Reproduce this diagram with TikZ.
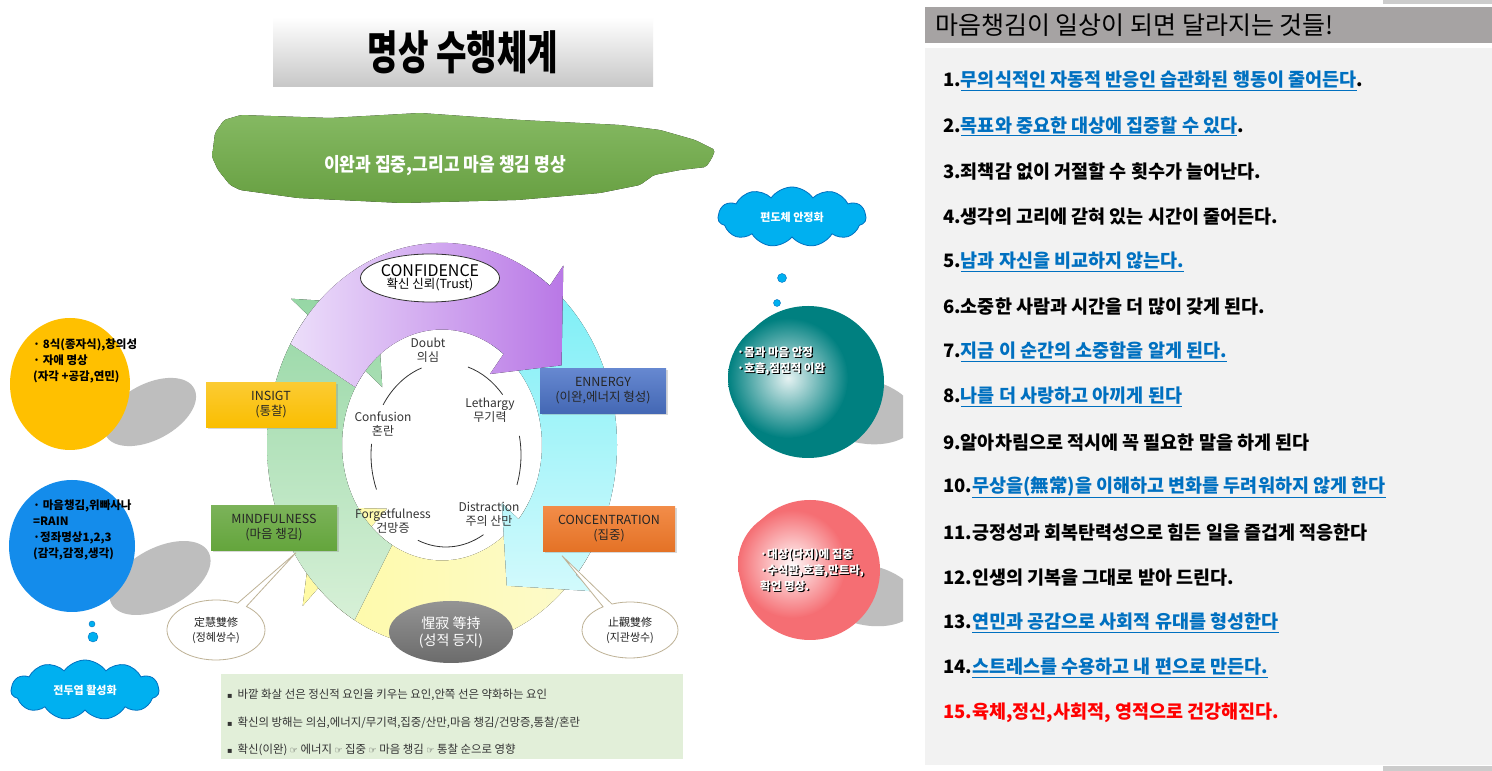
\documentclass[tikz,border=0pt]{standalone}
\usepackage{fontspec}
\setmainfont{Noto Sans CJK KR}
\newfontfamily\symfont{DejaVu Sans}
\usepackage{graphicx}
\usepackage{tikz}
\usetikzlibrary{shapes.geometric,shapes.symbols,shapes.callouts,calc,shadows}
\definecolor{linkblue}{RGB}{0,112,192}
\definecolor{alarm}{RGB}{255,0,0}
\definecolor{panelgray}{RGB}{242,242,242}
\definecolor{headgray}{RGB}{166,163,163}
\definecolor{brush}{RGB}{112,173,71}
\definecolor{skyblue}{RGB}{0,176,240}
\definecolor{skyline}{RGB}{0,112,192}
\definecolor{gold}{RGB}{255,192,0}
\definecolor{deepsky}{RGB}{20,140,235}
\definecolor{tealball}{RGB}{0,128,128}
\definecolor{pinkball}{RGB}{245,110,115}
\definecolor{shadowgray}{RGB}{190,190,190}
\definecolor{lilac}{RGB}{236,222,250}
\definecolor{violet2}{RGB}{185,120,230}
\definecolor{aqua1}{RGB}{120,238,246}
\definecolor{aqua2}{RGB}{210,250,252}
\definecolor{lemon1}{RGB}{255,250,165}
\definecolor{lemon2}{RGB}{252,250,205}
\definecolor{mint1}{RGB}{150,215,165}
\definecolor{mint2}{RGB}{215,240,215}
\definecolor{notegreen}{RGB}{226,239,217}
\definecolor{bubbleline}{RGB}{190,178,150}
\definecolor{insgold}{RGB}{250,190,0}
\definecolor{engblue}{RGB}{75,115,200}
\definecolor{mindgreen}{RGB}{100,165,60}
\definecolor{concorange}{RGB}{240,120,40}
\newcommand{\lnk}[1]{{\color{linkblue}\underline{#1}}}
\newcommand{\hand}{{\symfont\fontsize{9}{9}\selectfont ☞}}
\newcommand{\ringarrow}[3]{%
  \fill[#3] (#1:175) arc[start angle=#1,end angle=#2,radius=175] -- (#2:197) -- ({#2-22}:138)
    -- (#2:78) -- (#2:100) arc[start angle=#2,end angle=#1,radius=100] -- cycle;}

\begin{document}
\begin{tikzpicture}[x=1pt,y=1pt,
  stage/.style={rectangle,minimum width=130pt,minimum height=45pt,align=center,font=\fontsize{12.5}{15}\selectfont,text=black!85,drop shadow={shadow xshift=1.5pt,shadow yshift=-2pt,opacity=.3}},
  lbl/.style={align=center,font=\fontsize{12}{14}\selectfont,text=black!80,inner sep=1pt},
  arcline/.style={draw=black!80,line width=0.8pt},
  bubble/.style={ellipse callout,draw=bubbleline,line width=0.8pt,fill=white,callout pointer arc=12,align=center,font=\fontsize{11}{15}\selectfont,text=black!85},
  orbtxt/.style={align=left,anchor=west,font=\fontsize{11.5}{16}\selectfont\bfseries,inner sep=0pt},
  cloudy/.style={cloud,cloud puffs=11,cloud puff arc=110,cloud ignores aspect,draw=skyline,line width=0.8pt,fill=skyblue,text=white,font=\fontsize{11}{13}\selectfont\bfseries,minimum width=148pt,minimum height=60pt},
  drop/.style={circle,fill=skyblue,draw=skyline,line width=0.4pt,inner sep=0pt},
  item/.style={anchor=west,inner sep=0pt,font=\fontsize{18.5}{20}\selectfont\bfseries},
  note/.style={anchor=west,inner sep=0pt,font=\fontsize{11.4}{13}\selectfont,text=black!80}
]
\useasboundingbox (0,0) rectangle (1492,771);
\fill[white] (0,0) rectangle (1492,771);

% shadows behind the orbs
\begin{scope}
  \clip (0,0) rectangle (903,771);
  \fill[shadowgray,rotate around={28:(150,359)}] (150,359) ellipse[x radius=50,y radius=28];
  \fill[shadowgray,rotate around={28:(160,193)}] (160,193) ellipse[x radius=55,y radius=30];
  \fill[shadowgray,rotate around={-12:(862,360)}] (862,360) ellipse[x radius=55,y radius=32];
  \fill[shadowgray,rotate around={-12:(866,176)}] (866,176) ellipse[x radius=52,y radius=30];
\end{scope}

% left orbs
\node[ellipse,fill=gold,minimum width=120pt,minimum height=132pt] (self) at (70,387) {};
\node[orbtxt] (selftxt) at (33,410) {· 8식(종자식),창의성\\· 자애 명상\\(자각 +공감,연민)};
\node[ellipse,fill=deepsky,minimum width=126pt,minimum height=132pt] (rain) at (72,225) {};
\node[orbtxt] (raintxt) at (33,241) {· 마음챙김,위빠사나\\ =RAIN\\·정좌명상1,2,3\\(감각,감정,생각)};

% title and banner
\node[rectangle,top color=white,bottom color=black!22,minimum width=380pt,minimum height=70pt,font=\fontsize{46}{46}\selectfont\bfseries] (title) at (463,719) {\scalebox{0.72}[1]{명상 수행체계}};
\fill[top color=brush!85!white,bottom color=brush!92!black,rounded corners=2pt] (224,651) -- (241,656) -- (330,653) -- (420,658) -- (520,651) -- (620,646) -- (660,641) -- (695,631) -- (715,621) -- (712,613) -- (706,604) -- (680,601) -- (654,596) -- (640,586) -- (600,578) -- (517,571) -- (402,568) -- (298,573) -- (240,581) -- (230,586) -- (218,601) -- (212,614) -- (215,638) -- cycle;
\node[text=white,font=\fontsize{19}{20}\selectfont\bfseries] (banner) at (445,605) {\scalebox{0.9}[1]{이완과 집중,그리고 마음 챙김 명상}};

% circular arrows
\begin{scope}[shift={(442,326)},yscale=1.155]
  \ringarrow{-30}{-135}{left color=lemon1,right color=lemon2}
  \ringarrow{240}{140}{top color=mint1,bottom color=mint2}
  \ringarrow{60}{-40}{top color=aqua1,bottom color=aqua2}
  \ringarrow{150}{52}{left color=lilac,right color=violet2}
\end{scope}

% hindrances on the inner ring
\begin{scope}[shift={(446,316)}]
  \foreach \a/\b in {109/147,41/73,-19/12,248/300,173/202}
    \draw[arcline] (\a:75 and 92) arc[start angle=\a,end angle=\b,x radius=75,y radius=92];
\end{scope}
\node[lbl] (doubt) at (428,421) {Doubt\\의심};
\node[lbl] (confusion) at (383,347) {Confusion\\혼란};
\node[lbl] (lethargy) at (490,361) {Lethargy\\무기력};
\node[lbl] (forget) at (393,250) {Forgetfulness\\건망증};
\node[lbl] (distract) at (489,257) {Distraction\\주의 산만};

\node[ellipse,draw=black!80,line width=0.8pt,fill=white,minimum width=136pt,minimum height=48pt,inner sep=0pt,align=center] (conf) at (430,493)
  {{\fontsize{16}{17}\selectfont CONFIDENCE}\\{\fontsize{12.5}{14}\selectfont 확신 신뢰(Trust)}};

% factors
\node[stage,top color=insgold!80!white,bottom color=insgold] (insight) at (271,366) {INSIGT\\(통찰)};
\node[stage,top color=engblue!85!white,bottom color=engblue!90!black,minimum width=126pt] (energy) at (603,380) {ENNERGY\\(이완,에너지 형성)};
\node[stage,top color=mindgreen!85!white,bottom color=mindgreen,minimum width=126pt] (mind) at (274,243) {MINDFULNESS\\(마음 챙김)};
\node[stage,top color=concorange!85!white,bottom color=concorange!95!black,minimum width=132pt] (conc) at (609,242) {CONCENTRATION\\(집중)};

\node[bubble,minimum width=98pt,minimum height=60pt,callout absolute pointer={($(mind.south)+(22,-2)$)}] (samadhi) at (216,141) {定慧雙修\\(정혜쌍수)};
\node[bubble,minimum width=96pt,minimum height=56pt,callout absolute pointer={($(conc.south)+(-47,-4)$)}] (samatha) at (630,141) {止觀雙修\\(지관쌍수)};
\node[ellipse,top color=black!42,bottom color=black!58,minimum width=124pt,minimum height=62pt,text=white,align=center,font=\fontsize{14}{17}\selectfont] (equal) at (451,139) {惺寂 等持\\(성적 등지)};

% note box
\node[rectangle,fill=notegreen,minimum width=462pt,minimum height=85pt] (notes) at (452,54) {};
\node[note] (n1) at (227,76) {{\symfont\fontsize{8}{8}\selectfont ▪}\ \ 바깥 화살 선은 정신적 요인을 키우는 요인,안쪽 선은 약화하는 요인};
\node[note] (n2) at (227,48) {{\symfont\fontsize{8}{8}\selectfont ▪}\ \ 확신의 방해는 의심,에너지/무기력,집중/산만,마음 챙김/건망증,통찰/혼란};
\node[note] (n3) at (227,21) {{\symfont\fontsize{8}{8}\selectfont ▪}\ \ 확신(이완) \hand{} 에너지 \hand{} 집중 \hand{} 마음 챙김 \hand{} 통찰 순으로 영향};

% right orbs and clouds
\node[cloudy] (amyg) at (792,554) {편도체 안정화};
\node[drop,minimum size=9pt] (d1) at (782,493) {};
\node[drop,minimum size=7pt] (d2) at (777,468) {};
\node[drop,minimum size=4pt] (d3) at (772,445) {};
\node[circle,fill=tealball,minimum size=152pt] (calm) at (808,389) {};
\shade[inner color=white!90!tealball,outer color=tealball] ($(calm.center)+(-20,4)$) circle[radius=60];
\node[orbtxt,text=black] (calmsh) at (738.2,408.8) {·몸과 마음 안정\\·호흡,점진적 이완};
\node[orbtxt,text=white] (calmtxt) at (737,410) {·몸과 마음 안정\\·호흡,점진적 이완};
\node[circle,fill=pinkball,minimum size=140pt] (focus) at (810,201) {};
\shade[inner color=white!95!pinkball,outer color=pinkball] ($(focus.center)+(-18,6)$) circle[radius=54];
\node[orbtxt,text=black] (focussh) at (761.2,199.8) {·대상(다지)에 집중\\·수식관,호흡,만트라,\\확언 명상.};
\node[orbtxt,text=white] (focustxt) at (760,201) {·대상(다지)에 집중\\·수식관,호흡,만트라,\\확언 명상.};

\node[cloudy] (front) at (85,81) {전두엽 활성화};
\node[drop,minimum size=6pt] (d4) at (92,147) {};
\node[drop,minimum size=10pt] (d5) at (93,134) {};

% right panel
\fill[panelgray] (925,6) rectangle (1492,723);
\fill[headgray] (925,728) rectangle (1492,764);
\fill[black!20] (1383,767) rectangle (1492,771);
\fill[black!20] (1383,0) rectangle (1492,5);
\node[anchor=west,inner sep=0pt,font=\fontsize{25}{27}\selectfont] (head) at (935,746) {마음챙김이 일상이 되면 달라지는 것들!};
\foreach \t [count=\i] in {
  {1.\lnk{무의식적인 자동적 반응인 습관화된 행동이 줄어든다}.},
  {2.\lnk{목표와 중요한 대상에 집중할 수 있다}.},
  {3.죄책감 없이 거절할 수 횟수가 늘어난다.},
  {4.생각의 고리에 갇혀 있는 시간이 줄어든다.},
  {5.\lnk{남과 자신을 비교하지 않는다.}},
  {6.소중한 사람과 시간을 더 많이 갖게 된다.},
  {7.\lnk{지금 이 순간의 소중함을 알게 된다.}},
  {8.\lnk{나를 더 사랑하고 아끼게 된다}},
  {9.알아차림으로 적시에 꼭 필요한 말을 하게 된다},
  {10.\lnk{무상을(無常)을 이해하고 변화를 두려워하지 않게 한다}},
  {11.긍정성과 회복탄력성으로 힘든 일을 즐겁게 적응한다},
  {12.인생의 기복을 그대로 받아 드린다.},
  {13.\lnk{연민과 공감으로 사회적 유대를 형성한다}},
  {14.\lnk{스트레스를 수용하고 내 편으로 만든다.}},
  {\color{alarm}15.육체,정신,사회적, 영적으로 건강해진다.}}
  \node[item] (it\i) at (943,{690-45.15*(\i-1)}) {\t};
\end{tikzpicture}
\end{document}
